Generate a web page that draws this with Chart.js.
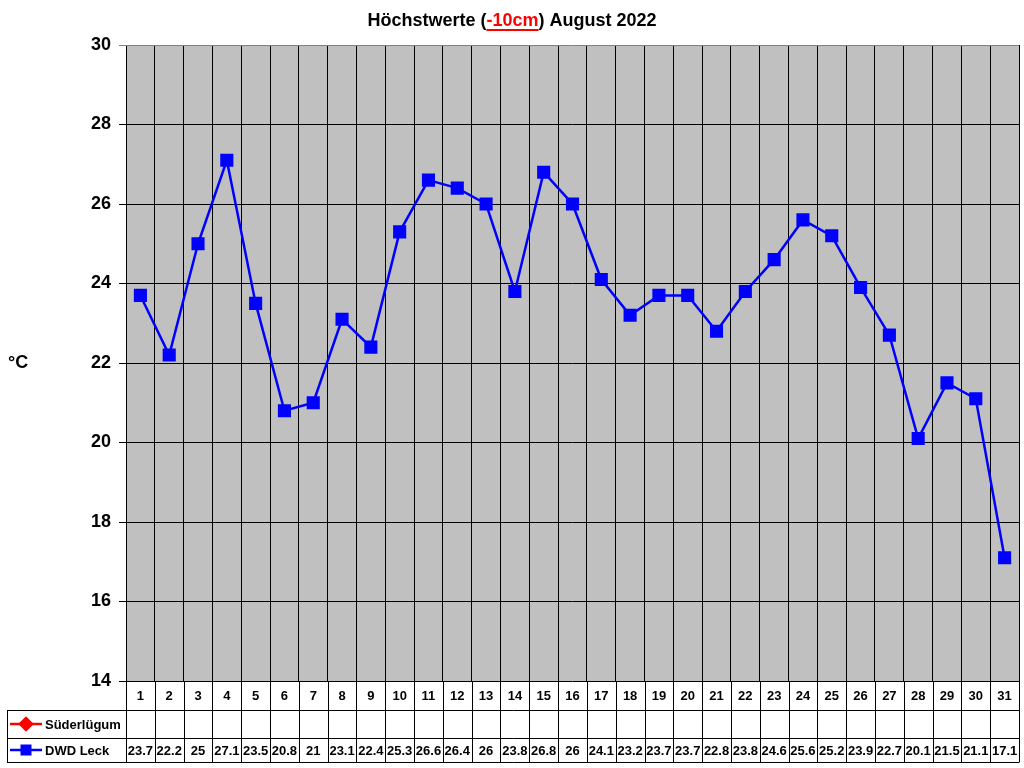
<!DOCTYPE html>
<html>
<head>
<meta charset="utf-8">
<script src="https://cdn.jsdelivr.net/npm/chart.js@4.4.1/dist/chart.umd.min.js"></script>
<style>
  html, body { margin: 0; padding: 0; background: #fff; }
  #wrap { width: 1024px; height: 768px; }
</style>
</head>
<body>
<div id="wrap"><canvas id="chart" width="1024" height="768"></canvas></div>
<script>
// Tage im August 2022
var days = ['1','2','3','4','5','6','7','8','9','10','11','12','13','14','15','16',
            '17','18','19','20','21','22','23','24','25','26','27','28','29','30','31'];
// Höchstwerte in -10cm (°C)
var dwdLeck = [23.7,22.2,25,27.1,23.5,20.8,21,23.1,22.4,25.3,26.6,26.4,26,23.8,26.8,26,
               24.1,23.2,23.7,23.7,22.8,23.8,24.6,25.6,25.2,23.9,22.7,20.1,21.5,21.1,17.1];
var suederluegum = [null,null,null,null,null,null,null,null,null,null,null,null,null,null,null,null,
                    null,null,null,null,null,null,null,null,null,null,null,null,null,null,null];
var yTicks = [14,16,18,20,22,24,26,28,30];

var FONT = '"Liberation Sans", Arial, sans-serif';

var tablePlugin = {
  id: 'datatable',
  beforeDraw: function (chart) {
    var ctx = chart.ctx, a = chart.chartArea;
    ctx.save();
    ctx.fillStyle = '#C0C0C0';
    ctx.fillRect(a.left, a.top, a.right - a.left, a.bottom - a.top);
    ctx.restore();
  },
  afterDraw: function (chart) {
    var ctx = chart.ctx, a = chart.chartArea, xs = chart.scales.x;
    var rows = [a.bottom, 710, 738, 762];
    var step = (a.right - a.left) / days.length;
    ctx.save();

    // Titel
    ctx.font = 'bold 18px ' + FONT;
    ctx.textBaseline = 'alphabetic';
    var parts = [['Höchstwerte (', '#000'], ['-10cm', '#FF0000'], [') August 2022', '#000']];
    var total = 0;
    parts.forEach(function (p) { total += ctx.measureText(p[0]).width; });
    var tx = 512 - total / 2;
    parts.forEach(function (p) {
      var w = ctx.measureText(p[0]).width;
      ctx.fillStyle = p[1];
      ctx.fillText(p[0], tx, 26);
      if (p[1] !== '#000') {
        ctx.fillRect(tx, 29, w, 2);
      }
      tx += w;
    });

    // Achsentitel
    ctx.fillStyle = '#000';
    ctx.font = 'bold 18px ' + FONT;
    ctx.textAlign = 'left';
    ctx.textBaseline = 'middle';
    ctx.fillText('°C', 8, 363);

    // Tabellenlinien
    ctx.strokeStyle = '#000';
    ctx.lineWidth = 1;
    ctx.beginPath();
    for (var i = 0; i <= days.length; i++) {
      var x = Math.round(a.left + i * step) + 0.5;
      ctx.moveTo(x, rows[0]);
      ctx.lineTo(x, rows[3]);
    }
    [1, 2, 3].forEach(function (r) {
      ctx.moveTo(7, rows[r] + 0.5);
      ctx.lineTo(Math.round(a.right) + 0.5, rows[r] + 0.5);
    });
    ctx.moveTo(7.5, rows[1]);
    ctx.lineTo(7.5, rows[3]);
    ctx.moveTo(Math.round(a.left) + 0.5, rows[1]);
    ctx.lineTo(Math.round(a.left) + 0.5, rows[3]);
    ctx.stroke();

    // Texte
    ctx.font = 'bold 13px ' + FONT;
    ctx.textAlign = 'center';
    ctx.textBaseline = 'middle';
    days.forEach(function (d, i) {
      var cx = xs.getPixelForValue(i);
      ctx.fillText(d, cx, (rows[0] + rows[1]) / 2 + 1);
      if (suederluegum[i] !== null) ctx.fillText(String(suederluegum[i]), cx, (rows[1] + rows[2]) / 2 + 1);
      if (dwdLeck[i] !== null) ctx.fillText(String(dwdLeck[i]), cx, (rows[2] + rows[3]) / 2 + 1);
    });

    // Legende
    var legend = [
      { label: 'Süderlügum', color: '#FF0000', style: 'rectRot', y: (rows[1] + rows[2]) / 2 },
      { label: 'DWD Leck', color: '#0000FF', style: 'rect', y: (rows[2] + rows[3]) / 2 }
    ];
    legend.forEach(function (l) {
      ctx.strokeStyle = l.color;
      ctx.fillStyle = l.color;
      ctx.lineWidth = 2.5;
      ctx.beginPath();
      ctx.moveTo(10, l.y);
      ctx.lineTo(42, l.y);
      ctx.stroke();
      Chart.helpers.drawPoint(ctx, { pointStyle: l.style, rotation: 0, radius: 6, borderWidth: 1 }, 26, l.y);
      ctx.fillStyle = '#000';
      ctx.textAlign = 'left';
      ctx.font = 'bold 13px ' + FONT;
      ctx.fillText(l.label, 45, l.y + 1);
    });
    ctx.restore();
  }
};

new Chart(document.getElementById('chart'), {
  type: 'line',
  data: {
    labels: days,
    datasets: [{
      label: 'Süderlügum',
      data: suederluegum,
      borderColor: '#FF0000',
      backgroundColor: '#FF0000',
      pointStyle: 'rectRot',
      pointRadius: 6,
      borderWidth: 2.5
    }, {
      label: 'DWD Leck',
      data: dwdLeck,
      borderColor: '#0000FF',
      backgroundColor: '#0000FF',
      pointStyle: 'rect',
      pointRadius: 7.5,
      pointHoverRadius: 7.5,
      borderWidth: 2.5,
      tension: 0
    }]
  },
  options: {
    responsive: false,
    animation: false,
    layout: { autoPadding: false, padding: { top: 45, right: 5, left: 0, bottom: 0 } },
    plugins: {
      legend: { display: false },
      title: { display: false },
      tooltip: { enabled: false }
    },
    scales: {
      x: {
        type: 'category',
        offset: true,
        grid: {
          offset: true,
          drawTicks: false,
          color: function (c) { return c.index === days.length ? '#808080' : '#000'; }
        },
        border: { display: false },
        ticks: { display: false },
        afterFit: function (s) { s.height = 87; }
      },
      y: {
        min: 14,
        max: 30,
        afterBuildTicks: function (s) { s.ticks = yTicks.map(function (v) { return { value: v }; }); },
        grid: {
          tickLength: 7,
          color: function (c) { return c.tick && c.tick.value === 30 ? '#808080' : '#000'; }
        },
        border: { display: false },
        ticks: {
          color: '#000',
          padding: 8,
          font: { family: FONT, size: 18, weight: 'bold' }
        },
        afterFit: function (s) { s.width = 126; }
      }
    }
  },
  plugins: [tablePlugin]
});
</script>
</body>
</html>
